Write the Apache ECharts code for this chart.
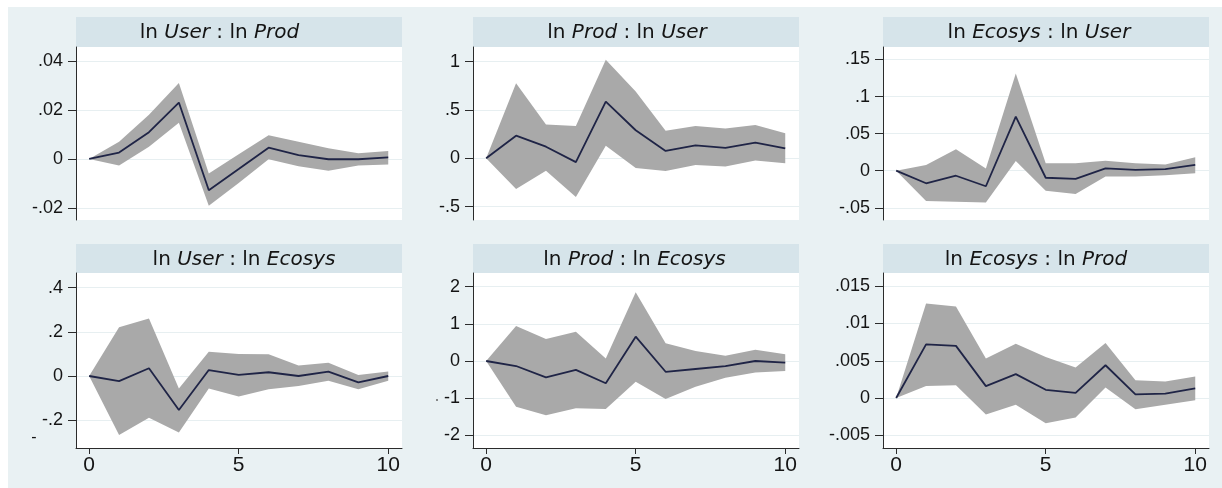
<!DOCTYPE html>
<html>
<head>
<meta charset="utf-8">
<script src="https://cdn.jsdelivr.net/npm/echarts@6/dist/echarts.min.js"></script>
<style>
  html, body { margin: 0; padding: 0; background: #ffffff; }
  #chart { width: 1222px; height: 488px; }
</style>
</head>
<body>
<div id="chart"></div>
<script>
// Impulse-response steps
const steps = [0, 1, 2, 3, 4, 5, 6, 7, 8, 9, 10];

// ln User : ln Prod
const userProdIrf = [0, 0.0026, 0.0109, 0.0230, -0.0127, -0.0041, 0.0046, 0.0016, -0.0001, -0.0001, 0.0007];
const userProdLo  = [0, -0.0027, 0.0050, 0.0148, -0.0190, -0.0098, -0.0001, -0.0030, -0.0048, -0.0027, -0.0022];
const userProdHi  = [0, 0.0070, 0.0180, 0.0310, -0.0059, 0.0019, 0.0097, 0.0070, 0.0044, 0.0023, 0.0033];

// ln Prod : ln User
const prodUserIrf = [0, 0.234, 0.120, -0.040, 0.586, 0.290, 0.076, 0.134, 0.107, 0.162, 0.103];
const prodUserLo  = [0, -0.317, -0.128, -0.400, 0.130, -0.100, -0.130, -0.070, -0.086, -0.024, -0.050];
const prodUserHi  = [0, 0.776, 0.350, 0.334, 1.020, 0.690, 0.286, 0.334, 0.307, 0.345, 0.260];

// ln Ecosys : ln User
const ecoUserIrf = [0, -0.0170, -0.0068, -0.0210, 0.0730, -0.0095, -0.0110, 0.0030, 0.0010, 0.0020, 0.0077];
const ecoUserLo  = [0, -0.0410, -0.0420, -0.0430, 0.0130, -0.0270, -0.0315, -0.0080, -0.0080, -0.0060, -0.0036];
const ecoUserHi  = [0, 0.0077, 0.0290, 0.0030, 0.1310, 0.0100, 0.0100, 0.0135, 0.0100, 0.0085, 0.0180];

// ln User : ln Ecosys
const userEcoIrf = [0, -0.023, 0.035, -0.154, 0.027, 0.005, 0.017, 0.000, 0.020, -0.029, 0.000];
const userEcoLo  = [0, -0.267, -0.189, -0.255, -0.056, -0.093, -0.060, -0.045, -0.021, -0.060, -0.021];
const userEcoHi  = [0, 0.220, 0.260, -0.056, 0.110, 0.100, 0.098, 0.047, 0.060, 0.005, 0.020];

// ln Prod : ln Ecosys
const prodEcoIrf = [0, -0.135, -0.440, -0.240, -0.600, 0.655, -0.290, -0.215, -0.140, 0.000, -0.045];
const prodEcoLo  = [0, -1.230, -1.460, -1.270, -1.290, -0.560, -1.020, -0.690, -0.450, -0.310, -0.270];
const prodEcoHi  = [0, 0.940, 0.590, 0.790, 0.070, 1.850, 0.475, 0.270, 0.140, 0.300, 0.180];

// ln Ecosys : ln Prod
const ecoProdIrf = [0, 0.0072, 0.0070, 0.0016, 0.0032, 0.0011, 0.0007, 0.0044, 0.0005, 0.0006, 0.0013];
const ecoProdLo  = [0, 0.0016, 0.0017, -0.0022, -0.0009, -0.0034, -0.0026, 0.0014, -0.0015, -0.0009, -0.0003];
const ecoProdHi  = [0, 0.0127, 0.0123, 0.0053, 0.0073, 0.0055, 0.0041, 0.0074, 0.0024, 0.0022, 0.0029];

// Tick labels
const userProdTicks = [-0.02, 0, 0.02, 0.04];
const prodUserTicks = [-0.5, 0, 0.5, 1];
const ecoUserTicks  = [-0.05, 0, 0.05, 0.1, 0.15];
const userEcoTicks  = [-0.2, 0, 0.2, 0.4];
const prodEcoTicks  = [-2, -1, 0, 1, 2];
const ecoProdTicks  = [-0.005, 0, 0.005, 0.01, 0.015];
const stepTicks     = [0, 5, 10];

// Panel titles: [impulse, response]
const panelTitles = [
  ['User', 'Prod'], ['Prod', 'User'], ['Ecosys', 'User'],
  ['User', 'Ecosys'], ['Prod', 'Ecosys'], ['Ecosys', 'Prod']
];

const panelData = [
  { irf: userProdIrf, lo: userProdLo, hi: userProdHi, ticks: userProdTicks },
  { irf: prodUserIrf, lo: prodUserLo, hi: prodUserHi, ticks: prodUserTicks },
  { irf: ecoUserIrf,  lo: ecoUserLo,  hi: ecoUserHi,  ticks: ecoUserTicks },
  { irf: userEcoIrf,  lo: userEcoLo,  hi: userEcoHi,  ticks: userEcoTicks },
  { irf: prodEcoIrf,  lo: prodEcoLo,  hi: prodEcoHi,  ticks: prodEcoTicks },
  { irf: ecoProdIrf,  lo: ecoProdLo,  hi: ecoProdHi,  ticks: ecoProdTicks }
];

// ---- layout ----
const colLeft = [76, 473, 883];
const plotW = 326;
const rowTop = [47, 273];
const rowH = [173, 175];
const stripTop = [17, 244];
const stripH = [30, 29];
const titleCx = [219.5, 627, 1039, 244, 634.5, 1036];
const yRange = [
  [-0.02485, 0.04562], [-0.638, 1.151], [-0.0665, 0.1668],
  [-0.3256, 0.4658], [-2.342, 2.369], [-0.00671, 0.01678]
];
const xMin = -0.44, xMax = 10.46;

const BG = '#e9f1f3';
const STRIP = '#d6e4ea';
const BAND = '#a9a9a9';
const LINE = '#1f2446';
const AXIS = '#2b2b2b';
const TEXT = '#141414';
const GRIDLINE = '#e7eff1';

function fmt(v) {
  const s = String(Number(Number(v).toPrecision(8)));
  return s.replace(/^(-?)0\./, '$1.');
}

const grids = [], xAxes = [], yAxes = [], series = [], graphics = [];

// white frame on the top and left edges
graphics.push({ type: 'rect', shape: { x: 0, y: 0, width: 1222, height: 7 }, style: { fill: '#ffffff' }, silent: true });
graphics.push({ type: 'rect', shape: { x: 0, y: 0, width: 8, height: 488 }, style: { fill: '#ffffff' }, silent: true });

panelData.forEach((p, k) => {
  const row = Math.floor(k / 3), col = k % 3;
  const bottomRow = row === 1;
  grids.push({
    left: colLeft[col], top: rowTop[row], width: plotW, height: rowH[row],
    show: true, backgroundColor: '#ffffff', borderWidth: 0,
    outerBoundsMode: 'none'
  });
  xAxes.push({
    type: 'value', gridIndex: k, min: xMin, max: xMax,
    axisLine: { show: bottomRow, onZero: false, lineStyle: { color: AXIS, width: 1 } },
    axisTick: { show: bottomRow, length: 6, customValues: stepTicks, lineStyle: { color: AXIS } },
    axisLabel: {
      show: bottomRow, customValues: stepTicks, margin: 7,
      fontFamily: 'Liberation Sans', fontSize: 21, color: TEXT
    },
    splitLine: { show: false }
  });
  yAxes.push({
    type: 'value', gridIndex: k, min: yRange[k][0], max: yRange[k][1],
    axisLine: { show: true, onZero: false, lineStyle: { color: AXIS, width: 1 } },
    axisTick: { show: true, length: 8, customValues: p.ticks, lineStyle: { color: AXIS } },
    axisLabel: {
      customValues: p.ticks, margin: 13, formatter: fmt,
      fontFamily: 'Liberation Sans', fontSize: 18, color: TEXT
    },
    splitLine: { show: true, lineStyle: { color: GRIDLINE, width: 1 } }
  });

  // confidence band as one polygon: upper bound forward, lower bound back
  series.push({
    type: 'custom', xAxisIndex: k, yAxisIndex: k, silent: true, z: 2,
    data: steps.map((s, i) => [s, p.lo[i], p.hi[i]]),
    encode: { x: 0, y: [1, 2] },
    renderItem: (params, api) => {
      if (params.dataIndex !== 0) return null;
      const upper = steps.map((s, i) => api.coord([s, p.hi[i]]));
      const lower = steps.map((s, i) => api.coord([s, p.lo[i]])).reverse();
      return {
        type: 'polygon',
        shape: { points: upper.concat(lower) },
        style: { fill: BAND }
      };
    }
  });
  series.push({
    type: 'line', xAxisIndex: k, yAxisIndex: k,
    data: steps.map((s, i) => [s, p.irf[i]]),
    symbol: 'none', silent: true, lineStyle: { color: LINE, width: 1.8 }, z: 3
  });

  // title strip
  graphics.push({
    type: 'rect', silent: true,
    shape: { x: colLeft[col], y: stripTop[row], width: plotW, height: stripH[row] },
    style: { fill: STRIP }
  });
  const t = panelTitles[k];
  graphics.push({
    type: 'text', silent: true,
    x: titleCx[k], y: stripTop[row] + stripH[row] / 2 + 1,
    style: {
      text: '{n|ln }{i|' + t[0] + '}{n| : ln }{i|' + t[1] + '}',
      align: 'center', verticalAlign: 'middle',
      fontFamily: 'DejaVu Sans', fontSize: 20, fill: TEXT,
      rich: {
        n: { fontFamily: 'DejaVu Sans', fontSize: 20, fill: TEXT },
        i: { fontFamily: 'DejaVu Sans', fontSize: 20, fontStyle: 'italic', fill: TEXT }
      }
    }
  });
});

// small stray marks left of the lower-left axes
graphics.push({
  type: 'text', silent: true, x: 34, y: 438,
  style: { text: '-', align: 'center', verticalAlign: 'middle', fontFamily: 'Liberation Sans', fontSize: 16, fill: TEXT }
});
graphics.push({
  type: 'circle', silent: true, shape: { cx: 437, cy: 400, r: 1 },
  style: { fill: '#666666' }
});

const chart = echarts.init(document.getElementById('chart'), null, { renderer: 'canvas' });
chart.setOption({
  backgroundColor: BG,
  animation: false,
  grid: grids,
  xAxis: xAxes,
  yAxis: yAxes,
  series: series,
  graphic: graphics
});
</script>
</body>
</html>
